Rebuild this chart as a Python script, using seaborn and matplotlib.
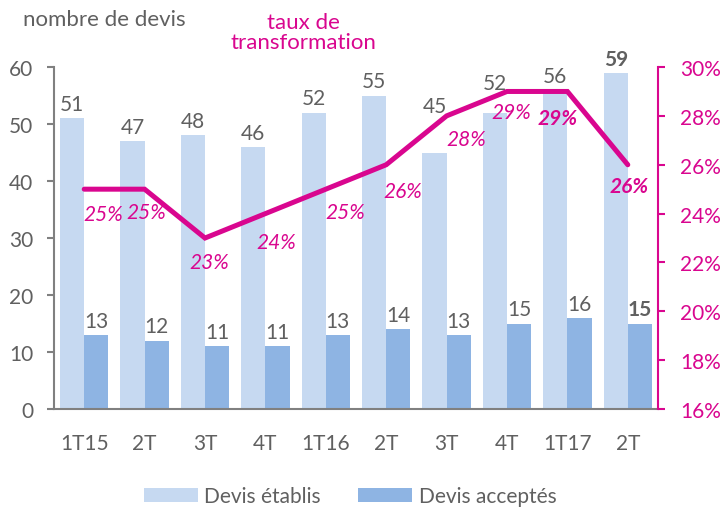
import pandas as pd
import numpy as np
import matplotlib
matplotlib.use('Agg')
import matplotlib.pyplot as plt
from matplotlib.ticker import PercentFormatter, FixedLocator
import seaborn as sns

# Données
trimestres = ['1T15', '2T15', '3T15', '4T15', '1T16', '2T16', '3T16', '4T16', '1T17', '2T17']
etiquettes_x = ['1T15', '2T', '3T', '4T', '1T16', '2T', '3T', '4T', '1T17', '2T']
devis_etablis = [51, 47, 48, 46, 52, 55, 45, 52, 56, 59]
devis_acceptes = [13, 12, 11, 11, 13, 14, 13, 15, 16, 15]
taux = [0.25, 0.25, 0.23, 0.24, 0.25, 0.26, 0.28, 0.29, 0.29, 0.26]

# Couleurs
bleu_clair = '#C6D9F1'
bleu_fonce = '#8EB4E3'
magenta = '#D9068F'
gris = '#606060'
gris_axe = '#808080'
taille = 15

# décalage des étiquettes de pourcentage (en pixels)
decal_pct = [(19, -25), (2, -23), (4, -24), (11, -28), (19, -23),
             (17, -26), (20, -23), (4, -21), (-10, -27), (1, -21)]
# espace au-dessus des barres "établis" (points), relevé pour éviter la courbe
pad_etablis = [3, 3, 3, 3, 3, 3, 26, 14, 3, 3]

sns.set_style('white')
plt.rcParams['font.family'] = ['Lato', 'DejaVu Sans']

df = pd.DataFrame({
    'trimestre': trimestres * 2,
    'devis': devis_etablis + devis_acceptes,
    'serie': ['Devis établis'] * len(trimestres) + ['Devis acceptés'] * len(trimestres),
})

fig = plt.figure(figsize=(7.21, 5.10), dpi=100)
ax = fig.add_axes([0.0749, 0.196, 0.8377, 0.6706])

sns.barplot(data=df, x='trimestre', y='devis', hue='serie', palette=[bleu_clair, bleu_fonce],
            saturation=1, width=0.8, linewidth=0, ax=ax)

# étiquettes des barres
for i, cont in enumerate(ax.containers):
    textes = ax.bar_label(cont, padding=3, fontsize=taille, color=gris)
    textes[-1].set_fontweight('bold')
    if i == 0:
        for t, p in zip(textes, pad_etablis):
            t.xyann = (0, p)

ax.set_ylim(0, 60)
ax.set_xlim(-0.5, len(trimestres) - 0.5)
ax.set_yticks(range(0, 61, 10))
ax.set_xlabel('')
ax.set_ylabel('')
ax.xaxis.set_major_locator(FixedLocator(np.arange(-0.5, len(trimestres), 1)))
ax.xaxis.set_major_formatter(plt.NullFormatter())
ax.xaxis.set_minor_locator(FixedLocator(np.arange(len(trimestres))))
ax.set_xticklabels(etiquettes_x, minor=True)
ax.tick_params(axis='x', which='major', length=6, width=1.5, color=gris_axe, direction='out')
ax.tick_params(axis='x', which='minor', length=0, pad=17, labelsize=taille, labelcolor=gris)
ax.tick_params(axis='y', length=5, width=1.5, color=gris_axe, pad=10, labelsize=taille,
               labelcolor=gris, direction='out', left=True)
for s in ['top', 'right']:
    ax.spines[s].set_visible(False)
for s in ['left', 'bottom']:
    ax.spines[s].set_color(gris_axe)
    ax.spines[s].set_linewidth(1.5)

# légende
sns.move_legend(ax, 'center', bbox_to_anchor=(0.49, -0.255), ncol=2, frameon=False, title=None,
                fontsize=taille, handlelength=2.6, handleheight=0.65, handletextpad=0.3,
                columnspacing=1.8, labelcolor=gris)

# taux de transformation (axe de droite)
ax2 = ax.twinx()
ax2.plot(range(len(taux)), taux, color=magenta, lw=3.6, solid_capstyle='round',
         solid_joinstyle='miter')
ax2.set_ylim(0.16, 0.30)
ax2.set_yticks(np.arange(0.16, 0.301, 0.02))
ax2.yaxis.set_major_formatter(PercentFormatter(1.0, decimals=0))
ax2.tick_params(axis='y', length=5, width=1.5, color=magenta, pad=11, labelsize=taille,
                labelcolor=magenta, direction='out', right=True)
for s in ['top', 'left', 'bottom']:
    ax2.spines[s].set_visible(False)
ax2.spines['right'].set_color(magenta)
ax2.spines['right'].set_linewidth(1.5)

for i, (v, (dx, dy)) in enumerate(zip(taux, decal_pct)):
    ax2.annotate(f'{v * 100:.0f}%', (i, v), xytext=(dx, dy), textcoords='offset pixels',
                 ha='center', va='center', fontsize=taille, color=magenta, style='italic',
                 fontweight='bold' if i >= len(taux) - 2 else 'normal')

# titres des axes
fig.text(23 / 721, 1 - 20 / 510, 'nombre de devis', fontsize=16, color=gris, ha='left', va='center')
fig.text(303 / 721, 1 - 33 / 510, 'taux de\ntransformation', fontsize=16, color=magenta,
         ha='center', va='center', linespacing=1.05)

fig.savefig('out.png', dpi=100)
